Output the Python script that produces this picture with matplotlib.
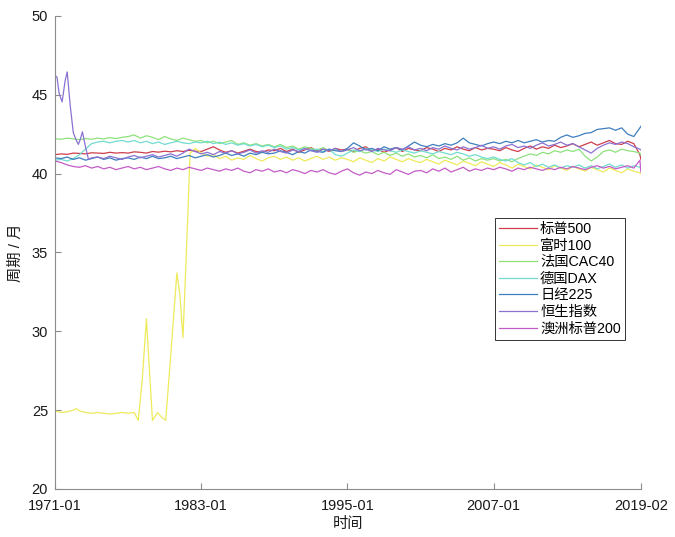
import numpy as np
import matplotlib
matplotlib.use('Agg')
import matplotlib.pyplot as plt

plt.rcParams['font.family'] = ['Liberation Sans', 'Noto Sans CJK SC', 'DejaVu Sans']

# ---- data (month index, 0 = 1971-01) ----
grid = list(range(0, 577, 6)) + [577]

sp500 = [41.20, 41.25, 41.22, 41.30, 41.28, 41.25, 41.32, 41.30, 41.28, 41.35, 41.30, 41.33,
         41.30, 41.38, 41.35, 41.30, 41.40, 41.36, 41.42, 41.38, 41.45, 41.40, 41.48, 41.42,
         41.40, 41.55, 41.70, 41.50, 41.35, 41.45, 41.30, 41.42, 41.55, 41.40, 41.35, 41.50,
         41.45, 41.60, 41.40, 41.55, 41.35, 41.50, 41.65, 41.45, 41.55, 41.40, 41.60, 41.50,
         41.55, 41.40, 41.60, 41.70, 41.45, 41.55, 41.35, 41.50, 41.65, 41.40, 41.60, 41.50,
         41.45, 41.65, 41.55, 41.40, 41.60, 41.50, 41.70, 41.55, 41.45, 41.65, 41.50, 41.60,
         41.55, 41.45, 41.65, 41.50, 41.40, 41.60, 41.75, 41.55, 41.70, 41.60, 41.80, 41.65,
         41.75, 41.90, 41.70, 41.85, 42.00, 41.80, 41.95, 42.10, 41.90, 41.85, 42.05, 41.90,
         41.20, 40.90]

ftse_m = ([0, 6, 12, 18, 21, 24, 30, 36, 42, 48, 54, 60, 66, 72, 78,
           82, 86, 90, 93, 96, 101, 105, 109, 114, 120, 123, 126, 130, 133, 138]
          + list(range(144, 577, 6)) + [577])
ftse = [24.95, 24.85, 24.90, 25.00, 25.10, 24.95, 24.85, 24.80, 24.85, 24.80, 24.75, 24.80,
        24.85, 24.80, 24.85,
        24.35, 27.00, 30.80, 27.50, 24.35, 24.85, 24.55, 24.35, 28.50, 33.70, 32.30, 29.60,
        36.00, 41.30, 41.60,
        41.30, 41.10, 41.20, 40.95, 41.10, 40.85, 41.00, 40.90, 41.15, 40.95, 40.80, 41.00,
        41.10, 40.90, 41.05, 40.85, 41.00, 40.80, 40.95, 41.10, 40.90, 41.05, 40.85, 41.00,
        40.90, 40.75, 41.00, 40.85, 40.70, 40.95, 40.80, 41.05, 40.90, 40.75, 40.95, 40.80,
        40.70, 40.90, 40.75, 40.60, 40.85, 40.70, 40.55, 40.80, 40.65, 40.50, 40.75, 40.60,
        40.45, 40.70, 40.55, 40.35, 40.60, 40.45, 40.30, 40.55, 40.40, 40.25, 40.50, 40.35,
        40.20, 40.45, 40.30, 40.15, 40.40, 40.25, 40.10, 40.35, 40.20, 40.05, 40.30, 40.15,
        40.05, 40.00]

cac40 = [42.20, 42.18, 42.25, 42.20, 42.15, 42.22, 42.18, 42.25, 42.20, 42.28, 42.22, 42.30,
         42.35, 42.45, 42.25, 42.40, 42.30, 42.15, 42.35, 42.20, 42.10, 42.25, 42.15, 42.05,
         42.10, 41.95, 42.05, 41.90, 42.00, 42.10, 41.85, 41.95, 41.80, 41.90, 41.75, 41.85,
         41.70, 41.85, 41.65, 41.75, 41.55, 41.70, 41.60, 41.50, 41.65, 41.45, 41.55, 41.40,
         41.50, 41.35, 41.45, 41.30, 41.40, 41.20, 41.35, 41.15, 41.30, 41.10, 41.25, 41.05,
         41.15, 41.00, 41.20, 40.95, 41.05, 40.90, 41.10, 40.85, 41.00, 40.80, 40.95, 40.85,
         40.95, 40.80, 40.90, 40.75, 40.95, 41.10, 41.25, 41.15, 41.35, 41.25, 41.45, 41.35,
         41.50, 41.40, 41.55, 41.10, 40.80, 41.05, 41.40, 41.50, 41.35, 41.55, 41.45, 41.40,
         41.30, 41.20]

dax = [40.85, 40.90, 40.80, 40.95, 41.20, 41.55, 41.90, 42.00, 42.05, 41.95, 42.05, 42.10,
       42.00, 42.10, 41.95, 42.05, 41.90, 42.00, 41.85, 41.95, 42.05, 41.95, 41.90, 42.00,
       41.95, 42.05, 41.90, 42.00, 41.85, 41.95, 41.80, 41.90, 41.75, 41.85, 41.70, 41.80,
       41.65, 41.75, 41.55, 41.65, 41.50, 41.60, 41.45, 41.55, 41.40, 41.55, 41.20, 41.10,
       41.30, 41.50, 41.40, 41.60, 41.50, 41.40, 41.55, 41.45, 41.35, 41.50, 41.40, 41.30,
       41.45, 41.35, 41.25, 41.40, 41.30, 41.20, 41.35, 41.25, 41.10, 41.20, 41.05, 40.95,
       41.05, 40.90, 40.80, 40.95, 40.70, 40.55, 40.70, 40.45, 40.60, 40.40, 40.55, 40.35,
       40.50, 40.40, 40.55, 40.35, 40.50, 40.30, 40.45, 40.60, 40.40, 40.55, 40.35, 40.50,
       40.40, 40.30]

nikkei = [41.00, 40.95, 41.05, 40.90, 41.00, 40.85, 40.95, 41.05, 40.90, 41.00, 40.85, 40.95,
          41.00, 40.90, 41.05, 40.95, 41.10, 40.95, 41.00, 41.10, 40.95, 41.05, 41.15, 41.00,
          41.10, 41.20, 41.05, 41.15, 41.30, 41.15, 41.25, 41.10, 41.30, 41.20, 41.35, 41.25,
          41.30, 41.45, 41.35, 41.20, 41.40, 41.30, 41.50, 41.40, 41.35, 41.55, 41.45, 41.40,
          41.60, 41.95, 41.75, 41.50, 41.60, 41.45, 41.70, 41.55, 41.65, 41.50, 41.75, 42.00,
          41.80, 41.70, 41.85, 41.75, 41.90, 41.80, 41.95, 42.25, 41.95, 41.85, 41.75, 41.90,
          42.00, 41.90, 42.05, 41.95, 42.10, 41.95, 42.05, 42.15, 42.00, 42.10, 42.05, 42.30,
          42.45, 42.30, 42.40, 42.55, 42.60, 42.80, 42.85, 42.90, 42.75, 42.90, 42.50, 42.35,
          42.90, 43.00]

hsi_m = [0, 2, 4, 7, 10, 12, 15, 18, 21, 23, 25, 27, 30, 33, 36] + list(range(42, 577, 6)) + [577]
hsi = [46.25, 46.10, 45.10, 44.55, 45.90, 46.45, 44.30, 42.60, 42.10, 41.85, 42.20, 42.65,
       41.70, 40.90, 41.00,
       41.05, 40.95, 41.10, 41.00, 40.90, 41.05, 41.15, 41.00, 41.10, 41.20, 41.05, 41.15,
       41.25, 41.10, 41.30, 41.55, 41.40, 41.25, 41.35, 41.20, 41.40, 41.30, 41.45, 41.25,
       41.35, 41.50, 41.30, 41.45, 41.35, 41.55, 41.40, 41.30, 41.50, 41.40, 41.60, 41.45,
       41.35, 41.55, 41.45, 41.60, 41.40, 41.50, 41.65, 41.45, 41.55, 41.40, 41.60, 41.50,
       41.45, 41.65, 41.55, 41.70, 41.50, 41.60, 41.45, 41.65, 41.55, 41.75, 41.60, 41.50,
       41.70, 41.55, 41.65, 41.80, 41.60, 41.70, 41.55, 41.75, 41.85, 41.65, 41.75, 41.60,
       41.80, 41.95, 41.75, 41.85, 42.00, 41.80, 41.90, 41.70, 41.50, 41.30, 41.60, 41.80,
       41.95, 41.85, 42.00, 41.90, 41.70, 41.55,
       41.50]

asx200 = [40.80, 40.70, 40.55, 40.45, 40.40, 40.50, 40.35, 40.45, 40.30, 40.40, 40.25, 40.35,
          40.45, 40.30, 40.40, 40.25, 40.35, 40.45, 40.30, 40.20, 40.35, 40.25, 40.40, 40.30,
          40.20, 40.35, 40.25, 40.15, 40.30, 40.20, 40.35, 40.15, 40.05, 40.25, 40.15, 40.30,
          40.10, 40.20, 40.05, 40.25, 40.15, 40.00, 40.20, 40.10, 40.25, 40.05, 39.95, 40.15,
          40.30, 40.05, 39.90, 40.10, 40.00, 40.20, 40.05, 39.95, 40.25, 40.10, 39.95, 40.15,
          40.20, 40.05, 40.30, 40.15, 40.35, 40.10, 40.25, 40.40, 40.15, 40.30, 40.20, 40.35,
          40.25, 40.40, 40.30, 40.15, 40.35, 40.25, 40.40, 40.30, 40.20, 40.35, 40.25, 40.40,
          40.30, 40.45, 40.35, 40.25, 40.40, 40.50, 40.35, 40.45, 40.30, 40.40, 40.50, 40.35,
          40.85, 40.10]

labels = ['标普500', '富时100', '法国CAC40', '德国DAX', '日经225', '恒生指数', '澳洲标普200']
colors = ['#cf3e4c', '#eeea5c', '#8ee27c', '#72dccf', '#3f7fbd', '#8b72d2', '#c45cc8']
series = [(grid, sp500), (ftse_m, ftse), (grid, cac40), (grid, dax),
          (grid, nikkei), (hsi_m, hsi), (grid, asx200)]

tick_pos = [0, 144, 288, 432, 577]
tick_lab = ['1971-01', '1983-01', '1995-01', '2007-01', '2019-02']

fig = plt.figure(figsize=(6.75, 5.37), dpi=100)
ax = fig.add_axes([0.0815, 0.0894, 0.868, 0.881])

for (m, v), lab, c in zip(series, labels, colors):
    ax.plot(m, v, color=c, lw=0.9, label=lab)

ax.set_xlim(0, 577)
ax.set_ylim(20, 50)
ax.set_xticks(tick_pos)
ax.set_xticklabels(tick_lab)
ax.set_yticks(range(20, 51, 5))

for s in ['top', 'right']:
    ax.spines[s].set_visible(False)
for s in ['left', 'bottom']:
    ax.spines[s].set_color('#8c8c8c')
    ax.spines[s].set_linewidth(0.8)
ax.tick_params(direction='in', length=4, width=0.8, color='#8c8c8c',
               labelsize=10.5, labelcolor='#1a1a1a')
ax.tick_params(axis='x', pad=7)
ax.tick_params(axis='y', pad=5)

ax.set_xlabel('时间', fontsize=11, color='#1a1a1a', labelpad=3)
ax.set_ylabel('周期 / 月', fontsize=11, color='#1a1a1a', labelpad=6)

leg = ax.legend(loc='upper left', bbox_to_anchor=(0.751, 0.573), borderaxespad=0,
                fontsize=10.3, handlelength=2.6, handletextpad=0.25, labelspacing=0.18,
                borderpad=0.3, fancybox=False, framealpha=1)
leg.get_frame().set_edgecolor('#333333')
leg.get_frame().set_linewidth(0.7)

fig.savefig('out.png', dpi=100)
